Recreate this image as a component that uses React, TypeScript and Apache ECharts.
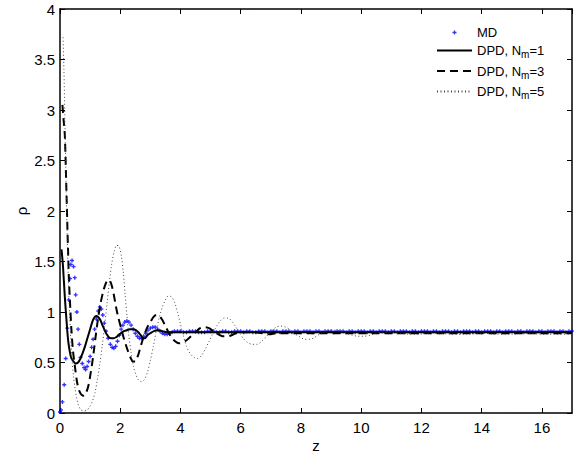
import React, { useEffect, useRef } from "react";
import * as echarts from "echarts";

const xTicks = { min: 0, max: 17, interval: 2 };
const yTicks = { min: 0, max: 4, interval: 0.5 };

const mdName = "MD";
const n1Name = "DPD, Nm=1";
const n3Name = "DPD, Nm=3";
const n5Name = "DPD, Nm=5";

const mdPoints: number[][] = [
  [0.0, 0.01], [0.03, 0.03], [0.08, 0.11], [0.14, 0.28], [0.19, 0.54], [0.24, 0.84], [0.29, 1.12], [0.33, 1.33],
  [0.36, 1.47], [0.4, 1.51], [0.45, 1.45], [0.49, 1.34], [0.52, 1.17], [0.56, 1.0], [0.6, 0.83], [0.64, 0.68],
  [0.68, 0.55], [0.74, 0.49], [0.8, 0.45], [0.85, 0.43], [0.9, 0.46], [0.95, 0.51], [1.0, 0.56], [1.05, 0.65],
  [1.1, 0.73], [1.15, 0.83], [1.21, 0.93], [1.27, 1.01], [1.32, 1.05], [1.37, 1.03], [1.42, 0.97], [1.47, 0.89],
  [1.53, 0.81], [1.6, 0.74], [1.67, 0.68], [1.73, 0.65], [1.79, 0.64], [1.85, 0.66], [1.91, 0.71], [1.97, 0.77],
  [2.03, 0.83], [2.09, 0.87], [2.15, 0.9], [2.22, 0.91], [2.29, 0.9], [2.36, 0.87], [2.43, 0.83], [2.5, 0.79],
  [2.57, 0.76], [2.64, 0.74], [2.71, 0.74], [2.78, 0.76], [2.85, 0.79], [2.92, 0.82], [3.0, 0.84], [3.08, 0.85],
  [3.16, 0.85], [3.24, 0.83], [3.32, 0.81], [3.4, 0.79], [3.48, 0.78], [3.56, 0.78], [3.64, 0.79], [3.72, 0.8],
  [3.8, 0.81], [3.9, 0.81], [4.0, 0.81],
  [4.1, 0.8], [4.2, 0.8], [4.3, 0.81], [4.4, 0.81], [4.5, 0.81], [4.6, 0.8], [4.7, 0.8], [4.8, 0.8], [4.9, 0.81], [5.0, 0.81],
  [5.1, 0.81], [5.2, 0.8], [5.3, 0.8], [5.4, 0.81], [5.5, 0.81], [5.6, 0.8], [5.7, 0.8], [5.8, 0.81], [5.9, 0.81], [6.0, 0.81],
  [6.1, 0.8], [6.2, 0.81], [6.3, 0.81], [6.4, 0.8], [6.5, 0.8], [6.6, 0.81], [6.7, 0.81], [6.8, 0.81], [6.9, 0.8], [7.0, 0.81],
  [7.1, 0.81], [7.2, 0.81], [7.3, 0.8], [7.4, 0.81], [7.5, 0.81], [7.6, 0.81], [7.7, 0.8], [7.8, 0.81], [7.9, 0.81], [8.0, 0.8],
  [8.1, 0.81], [8.2, 0.81], [8.3, 0.81], [8.4, 0.8], [8.5, 0.81], [8.6, 0.81], [8.7, 0.8], [8.8, 0.81], [8.9, 0.81], [9.0, 0.81],
  [9.1, 0.8], [9.2, 0.81], [9.3, 0.81], [9.4, 0.81], [9.5, 0.8], [9.6, 0.81], [9.7, 0.81], [9.8, 0.8], [9.9, 0.81], [10.0, 0.81],
  [10.1, 0.81], [10.2, 0.8], [10.3, 0.81], [10.4, 0.81], [10.5, 0.8], [10.6, 0.81], [10.7, 0.81], [10.8, 0.81], [10.9, 0.8], [11.0, 0.81],
  [11.1, 0.81], [11.2, 0.8], [11.3, 0.81], [11.4, 0.81], [11.5, 0.81], [11.6, 0.8], [11.7, 0.81], [11.8, 0.81], [11.9, 0.8], [12.0, 0.81],
  [12.1, 0.81], [12.2, 0.81], [12.3, 0.8], [12.4, 0.81], [12.5, 0.81], [12.6, 0.8], [12.7, 0.81], [12.8, 0.81], [12.9, 0.81], [13.0, 0.8],
  [13.1, 0.81], [13.2, 0.81], [13.3, 0.8], [13.4, 0.81], [13.5, 0.81], [13.6, 0.81], [13.7, 0.8], [13.8, 0.81], [13.9, 0.81], [14.0, 0.8],
  [14.1, 0.81], [14.2, 0.81], [14.3, 0.81], [14.4, 0.8], [14.5, 0.81], [14.6, 0.81], [14.7, 0.8], [14.8, 0.81], [14.9, 0.81], [15.0, 0.81],
  [15.1, 0.8], [15.2, 0.81], [15.3, 0.81], [15.4, 0.8], [15.5, 0.81], [15.6, 0.81], [15.7, 0.81], [15.8, 0.8], [15.9, 0.81], [16.0, 0.81],
  [16.1, 0.8], [16.2, 0.81], [16.3, 0.81], [16.4, 0.81], [16.5, 0.8], [16.6, 0.81], [16.7, 0.81], [16.8, 0.8], [16.9, 0.81], [17.0, 0.81],
];

const dpdN1: number[][] = [
  [0.05, 1.62], [0.1, 1.45], [0.16, 1.15], [0.22, 0.9], [0.27, 0.72], [0.33, 0.6], [0.38, 0.54], [0.45, 0.51],
  [0.52, 0.49], [0.6, 0.5], [0.68, 0.54], [0.76, 0.6], [0.84, 0.67], [0.92, 0.75], [1.0, 0.83], [1.07, 0.9],
  [1.13, 0.94], [1.2, 0.96], [1.27, 0.95], [1.34, 0.92], [1.41, 0.87], [1.48, 0.82], [1.55, 0.78], [1.62, 0.75],
  [1.7, 0.74], [1.78, 0.74], [1.86, 0.75], [1.94, 0.77], [2.02, 0.79], [2.12, 0.81], [2.22, 0.82], [2.32, 0.83],
  [2.42, 0.83], [2.52, 0.82], [2.6, 0.8], [2.68, 0.77], [2.76, 0.74], [2.82, 0.74], [2.9, 0.77], [3.0, 0.79],
  [3.12, 0.81], [3.25, 0.82], [3.4, 0.81], [3.55, 0.8], [3.7, 0.8], [4.0, 0.8], [4.5, 0.8], [5.2, 0.8],
  [6.0, 0.8], [7.0, 0.8], [8.0, 0.8], [9.0, 0.8], [10.0, 0.8], [11.0, 0.8], [12.0, 0.8], [13.0, 0.8],
  [14.0, 0.8], [15.0, 0.8], [16.0, 0.8], [17.0, 0.8],
];

const dpdN3: number[][] = [
  [0.08, 3.05], [0.12, 2.9], [0.16, 2.75], [0.2, 2.35], [0.24, 1.9], [0.27, 1.58], [0.3, 1.3], [0.34, 1.05],
  [0.38, 0.82], [0.43, 0.62], [0.5, 0.45], [0.57, 0.3], [0.64, 0.22], [0.72, 0.18], [0.8, 0.17], [0.88, 0.21],
  [0.95, 0.28], [1.02, 0.4], [1.1, 0.56], [1.18, 0.75], [1.26, 0.93], [1.35, 1.09], [1.44, 1.21], [1.53, 1.29],
  [1.62, 1.32], [1.7, 1.28], [1.78, 1.18], [1.86, 1.05], [1.94, 0.94], [2.02, 0.85], [2.1, 0.76], [2.18, 0.68],
  [2.26, 0.61], [2.34, 0.55], [2.42, 0.51], [2.5, 0.51], [2.58, 0.56], [2.66, 0.64], [2.74, 0.72], [2.82, 0.79],
  [2.9, 0.85], [3.0, 0.9], [3.1, 0.95], [3.2, 0.97], [3.3, 0.96], [3.4, 0.92], [3.5, 0.86], [3.6, 0.8],
  [3.7, 0.75], [3.82, 0.71], [3.95, 0.69], [4.08, 0.7], [4.2, 0.72], [4.35, 0.76], [4.5, 0.8], [4.65, 0.84],
  [4.8, 0.85], [4.95, 0.84], [5.1, 0.81], [5.25, 0.78], [5.4, 0.76], [5.55, 0.76], [5.7, 0.77], [5.85, 0.79],
  [6.0, 0.8], [6.2, 0.8], [6.45, 0.8], [6.7, 0.79], [6.95, 0.78], [7.2, 0.79], [7.5, 0.79], [8.5, 0.79],
  [9.5, 0.79], [10.5, 0.79], [11.5, 0.79], [12.5, 0.79], [13.5, 0.79], [14.5, 0.79], [15.5, 0.79], [17.0, 0.79],
];

const dpdN5: number[][] = [
  [0.1, 3.72], [0.13, 3.4], [0.16, 2.95], [0.19, 2.45], [0.22, 2.0], [0.25, 1.62], [0.28, 1.28], [0.32, 0.98],
  [0.36, 0.72], [0.4, 0.52], [0.45, 0.36], [0.5, 0.24], [0.56, 0.14], [0.62, 0.07], [0.7, 0.03], [0.8, 0.02],
  [0.9, 0.03], [1.0, 0.07], [1.08, 0.12], [1.16, 0.2], [1.24, 0.33], [1.32, 0.48], [1.4, 0.66], [1.48, 0.86],
  [1.56, 1.08], [1.64, 1.3], [1.72, 1.48], [1.8, 1.6], [1.88, 1.66], [1.96, 1.65], [2.04, 1.55], [2.1, 1.4],
  [2.16, 1.18], [2.22, 0.97], [2.28, 0.78], [2.36, 0.6], [2.44, 0.46], [2.52, 0.38], [2.6, 0.33], [2.7, 0.31],
  [2.8, 0.33], [2.9, 0.4], [3.0, 0.52], [3.1, 0.66], [3.2, 0.82], [3.3, 0.95], [3.4, 1.05], [3.5, 1.12],
  [3.6, 1.16], [3.7, 1.15], [3.8, 1.1], [3.9, 1.0], [4.0, 0.88], [4.1, 0.76], [4.2, 0.66], [4.32, 0.59],
  [4.45, 0.55], [4.58, 0.54], [4.7, 0.57], [4.82, 0.63], [4.95, 0.71], [5.08, 0.79], [5.2, 0.86], [5.32, 0.91],
  [5.45, 0.94], [5.58, 0.94], [5.7, 0.91], [5.82, 0.86], [5.95, 0.8], [6.08, 0.74], [6.22, 0.7], [6.38, 0.68],
  [6.54, 0.68], [6.7, 0.71], [6.86, 0.76], [7.02, 0.81], [7.18, 0.85], [7.34, 0.86], [7.5, 0.85], [7.66, 0.82],
  [7.82, 0.78], [7.98, 0.75], [8.14, 0.73], [8.3, 0.73], [8.46, 0.75], [8.62, 0.78], [8.78, 0.8], [8.94, 0.82],
  [9.1, 0.82], [9.3, 0.81], [9.5, 0.79], [9.7, 0.77], [9.9, 0.76], [10.1, 0.76], [10.3, 0.77], [10.5, 0.79],
  [10.75, 0.8], [11.0, 0.8], [11.3, 0.79], [11.6, 0.78], [11.9, 0.78], [12.2, 0.79], [12.6, 0.79], [13.0, 0.78],
  [13.5, 0.78], [14.0, 0.79], [14.5, 0.78], [15.0, 0.78], [15.5, 0.79], [16.0, 0.78], [16.5, 0.78], [17.0, 0.78],
];

const FONT = "'Liberation Sans', Arial, Helvetica, sans-serif";

export default function App() {
  const ref = useRef<HTMLDivElement>(null);
  useEffect(() => {
    if (!ref.current) return;
    const chart = echarts.init(ref.current, null, { renderer: "svg" });
    const mkLine = () => ({ show: true, onZero: false, lineStyle: { color: "#000", width: 1.5 } });
    const mkTick = () => ({ show: true, inside: true, length: 5, lineStyle: { color: "#000", width: 1 } });
    const label = { color: "#000", fontSize: 15, fontFamily: FONT };
    const blankLabel = { show: true, formatter: () => "" };
    const legendText = (name: string) => {
      if (name === mdName) return "{a|MD}";
      const m = name.match(/^DPD, Nm=(\d)$/);
      if (m) return "{a|DPD, N}{b|m}{a|=" + m[1] + "}";
      return name;
    };
    const hiddenSymbol = { opacity: 0 };
    chart.setOption({
      animation: false,
      backgroundColor: "#fff",
      grid: { left: 60, top: 9, width: 512, height: 404, outerBoundsMode: "none" },
      legend: {
        show: true,
        orient: "vertical",
        left: 431,
        top: 21,
        itemWidth: 35,
        itemHeight: 4,
        itemGap: 5,
        data: [
          { name: mdName },
          { name: n1Name, itemStyle: hiddenSymbol },
          { name: n3Name, itemStyle: hiddenSymbol },
          { name: n5Name, itemStyle: hiddenSymbol },
        ],
        formatter: legendText,
        textStyle: {
          color: "#000",
          fontFamily: FONT,
          rich: {
            a: { fontSize: 13, lineHeight: 18, fontFamily: FONT, color: "#000" },
            b: { fontSize: 10, verticalAlign: "bottom", fontFamily: FONT, color: "#000" },
          },
        },
      },
      xAxis: [
        {
          type: "value",
          position: "bottom",
          min: xTicks.min,
          max: xTicks.max,
          interval: xTicks.interval,
          axisLine: mkLine(),
          axisTick: mkTick(),
          splitLine: { show: false },
          axisLabel: { ...label, margin: 7, showMaxLabel: false },
          name: "z",
          nameLocation: "middle",
          nameGap: 25,
          nameMoveOverlap: false,
          nameTextStyle: { color: "#000", fontSize: 15, lineHeight: 14, fontFamily: FONT },
        },
        {
          type: "value",
          position: "top",
          min: xTicks.min,
          max: xTicks.max,
          interval: xTicks.interval,
          axisLine: mkLine(),
          axisTick: mkTick(),
          splitLine: { show: false },
          axisLabel: blankLabel,
        },
      ],
      yAxis: [
        {
          type: "value",
          position: "left",
          min: yTicks.min,
          max: yTicks.max,
          interval: yTicks.interval,
          axisLine: mkLine(),
          axisTick: mkTick(),
          splitLine: { show: false },
          axisLabel: { ...label, margin: 5 },
          name: "ρ",
          nameLocation: "middle",
          nameGap: 31,
          nameMoveOverlap: false,
          nameTextStyle: { color: "#000", fontSize: 15, fontFamily: FONT },
        },
        {
          type: "value",
          position: "right",
          min: yTicks.min,
          max: yTicks.max,
          interval: yTicks.interval,
          axisLine: mkLine(),
          axisTick: mkTick(),
          splitLine: { show: false },
          axisLabel: blankLabel,
        },
      ],
      series: [
        {
          name: mdName,
          type: "scatter",
          data: mdPoints,
          symbol: "path://M2,0H4V2H6V4H4V6H2V4H0V2H2Z",
          symbolSize: 4,
          itemStyle: { color: "#0000ff" },
          z: 2,
        },
        {
          name: n1Name,
          type: "line",
          data: dpdN1,
          showSymbol: false,
          symbol: "none",
          smooth: 0.3,
          lineStyle: { color: "#000", width: 2 },
          itemStyle: { color: "#000" },
          z: 3,
        },
        {
          name: n3Name,
          type: "line",
          data: dpdN3,
          showSymbol: false,
          symbol: "none",
          smooth: 0.3,
          lineStyle: { color: "#000", width: 2, type: [8, 5] },
          itemStyle: { color: "#000" },
          z: 3,
        },
        {
          name: n5Name,
          type: "line",
          data: dpdN5,
          showSymbol: false,
          symbol: "none",
          smooth: 0.3,
          lineStyle: { color: "#444", width: 1, type: [1, 2.5] },
          itemStyle: { color: "#444" },
          z: 3,
        },
      ],
    });
    return () => chart.dispose();
  }, []);
  return (
    <div
      ref={ref}
      style={{ position: "absolute", left: 0, top: 0, width: 579, height: 454, background: "#fff" }}
    />
  );
}
